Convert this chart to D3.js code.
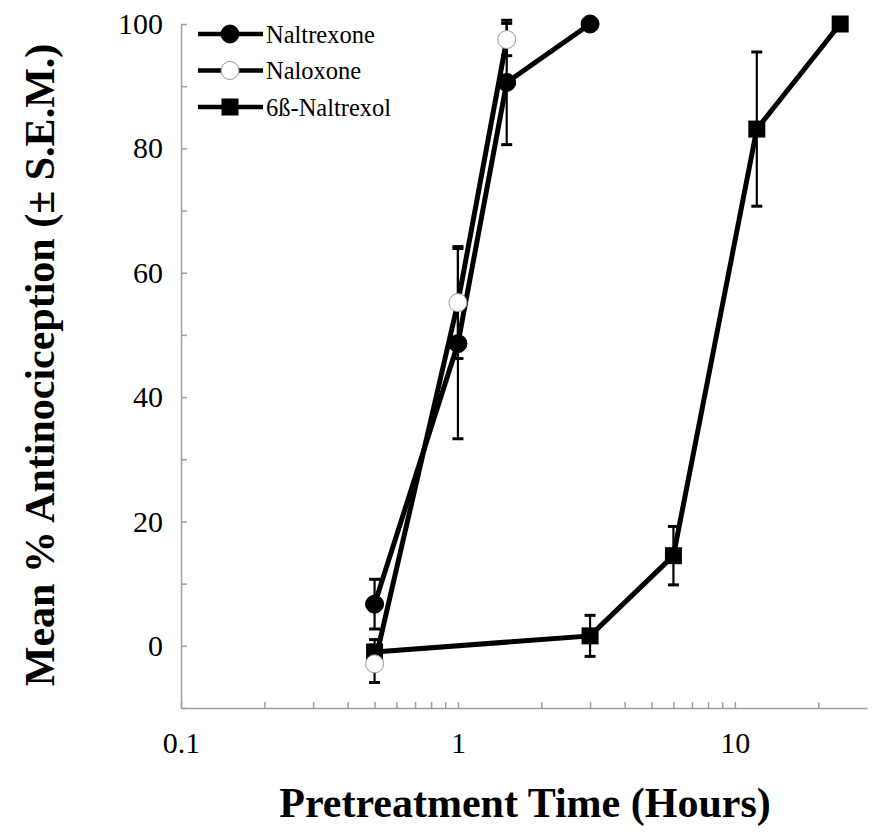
<!DOCTYPE html>
<meta charset="utf-8">
<style>
	body { margin: 0; background: #fff; }
	svg text { font-family: "Liberation Serif", "Times New Roman", serif; fill: #000; }
	.axis path, .axis line { stroke: #a0a0a0; stroke-width: 1.5px; }
	.axis text { font-size: 30px; font-family: "Liberation Serif", serif; }
	.title { font-weight: bold; font-size: 42px; }
	.legend text { font-size: 24.5px; }
</style>
<script src="https://cdn.jsdelivr.net/npm/d3@7"></script>
<body>
<div id="chart"></div>
<script>
	// pretreatment times (hours)
	let naltrexoneX = [0.5, 1, 1.5, 3];
	let naltrexoneY = [6.7, 48.6, 90.6, 100];
	let naltrexoneErr = [4.0, 15.3, 10.0, 0];

	let naloxoneX = [0.5, 1, 1.5];
	let naloxoneY = [-2.9, 55.2, 97.5];
	let naloxoneErr = [3.0, 9.0, 2.6];

	let naltrexolX = [0.5, 3, 6, 12, 24];
	let naltrexolY = [-1.0, 1.6, 14.5, 83.1, 100];
	let naltrexolErr = [2.0, 3.3, 4.7, 12.4, 0];

	let yTicks = [0, 20, 40, 60, 80, 100];
	let yMinor = [-10, 10, 30, 50, 70, 90];
	let xTicks = [0.1, 1, 10];
	let xMinor = [0.2, 0.3, 0.4, 0.5, 0.6, 0.7, 0.8, 0.9, 2, 3, 4, 5, 6, 7, 8, 9, 20];

	let legendNames = ["Naltrexone", "Naloxone", "6ß-Naltrexol"];

	let width = 873, height = 837;

	let svg = d3.select("#chart")
		.append("svg")
		.attr("width", width)
		.attr("height", height);

	let x = d3.scaleLog().domain([0.1, 30]).range([181, 867]);
	let y = d3.scaleLinear().domain([-10, 100]).range([708, 24]);

	// y axis
	svg.append("g")
		.attr("class", "axis")
		.attr("transform", "translate(181,0)")
		.call(d3.axisLeft(y).tickValues(yTicks).tickSizeInner(-6).tickSizeOuter(0).tickPadding(18))
		.call(g => g.selectAll("text").attr("fill", "#000"));
	svg.append("g")
		.attr("class", "axis")
		.attr("transform", "translate(181,0)")
		.call(d3.axisLeft(y).tickValues(yMinor).tickSizeInner(-6).tickSizeOuter(0).tickFormat(""))
		.call(g => g.select(".domain").remove());

	// x axis
	svg.append("g")
		.attr("class", "axis")
		.attr("transform", "translate(0,708)")
		.call(d3.axisBottom(x).tickValues(xTicks).tickFormat(d3.format("")).tickSizeInner(-6).tickSizeOuter(0).tickPadding(24))
		.call(g => g.selectAll("text").attr("fill", "#000"));
	svg.append("g")
		.attr("class", "axis")
		.attr("transform", "translate(0,708)")
		.call(d3.axisBottom(x).tickValues(xMinor).tickSizeInner(-6).tickSizeOuter(0).tickFormat(""))
		.call(g => g.select(".domain").remove());

	svg.append("text")
		.attr("class", "title")
		.attr("x", 525)
		.attr("y", 817)
		.attr("text-anchor", "middle")
		.text("Pretreatment Time (Hours)");

	svg.append("text")
		.attr("class", "title")
		.attr("transform", "translate(54,365) rotate(-90)")
		.attr("text-anchor", "middle")
		.text("Mean % Antinociception (± S.E.M.)");

	let line = d3.line().x(d => x(d[0])).y(d => y(d[1]));

	function series(xs, ys, es, shape, fill) {
		let pts = xs.map((v, i) => [v, ys[i], es[i]]);
		let g = svg.append("g");

		g.append("path")
			.datum(pts)
			.attr("fill", "none")
			.attr("stroke", "#000")
			.attr("stroke-width", 5)
			.attr("d", line);

		// error bars
		let eb = g.selectAll(".err")
			.data(pts.filter(d => d[2] > 0))
			.join("g");
		eb.append("line")
			.attr("x1", d => x(d[0])).attr("x2", d => x(d[0]))
			.attr("y1", d => y(d[1] - d[2])).attr("y2", d => y(d[1] + d[2]))
			.attr("stroke", "#000").attr("stroke-width", 2.2);
		eb.selectAll(".cap")
			.data(d => [[d[0], d[1] - d[2]], [d[0], d[1] + d[2]]])
			.join("line")
			.attr("x1", d => x(d[0]) - 5.5).attr("x2", d => x(d[0]) + 5.5)
			.attr("y1", d => y(d[1])).attr("y2", d => y(d[1]))
			.attr("stroke", "#000").attr("stroke-width", 3);

		drawMarkers(g, pts.map(d => [x(d[0]), y(d[1])]), shape, fill);
	}

	function drawMarkers(g, pts, shape, fill) {
		if (shape === "square") {
			g.selectAll(".m")
				.data(pts)
				.join("rect")
				.attr("x", d => d[0] - 8.5).attr("y", d => d[1] - 8.5)
				.attr("width", 17).attr("height", 17)
				.attr("fill", "#000");
		} else {
			g.selectAll(".m")
				.data(pts)
				.join("circle")
				.attr("cx", d => d[0]).attr("cy", d => d[1])
				.attr("r", 9)
				.attr("fill", fill)
				.attr("stroke", fill === "#fff" ? "#999" : "#000")
				.attr("stroke-width", 1);
		}
	}

	series(naltrexolX, naltrexolY, naltrexolErr, "square", "#000");
	series(naltrexoneX, naltrexoneY, naltrexoneErr, "circle", "#000");
	series(naloxoneX, naloxoneY, naloxoneErr, "circle", "#fff");

	// legend
	let legend = svg.append("g").attr("class", "legend");
	let shapes = [["circle", "#000"], ["circle", "#fff"], ["square", "#000"]];
	legendNames.forEach((name, i) => {
		let ly = 34 + i * 36.5;
		legend.append("line")
			.attr("x1", 198).attr("x2", 263)
			.attr("y1", ly).attr("y2", ly)
			.attr("stroke", "#000").attr("stroke-width", 4.5);
		drawMarkers(legend.append("g"), [[230, ly]], shapes[i][0], shapes[i][1]);
		legend.append("text")
			.attr("x", 266)
			.attr("y", ly)
			.attr("dy", "0.35em")
			.text(name);
	});
</script>
</body>
